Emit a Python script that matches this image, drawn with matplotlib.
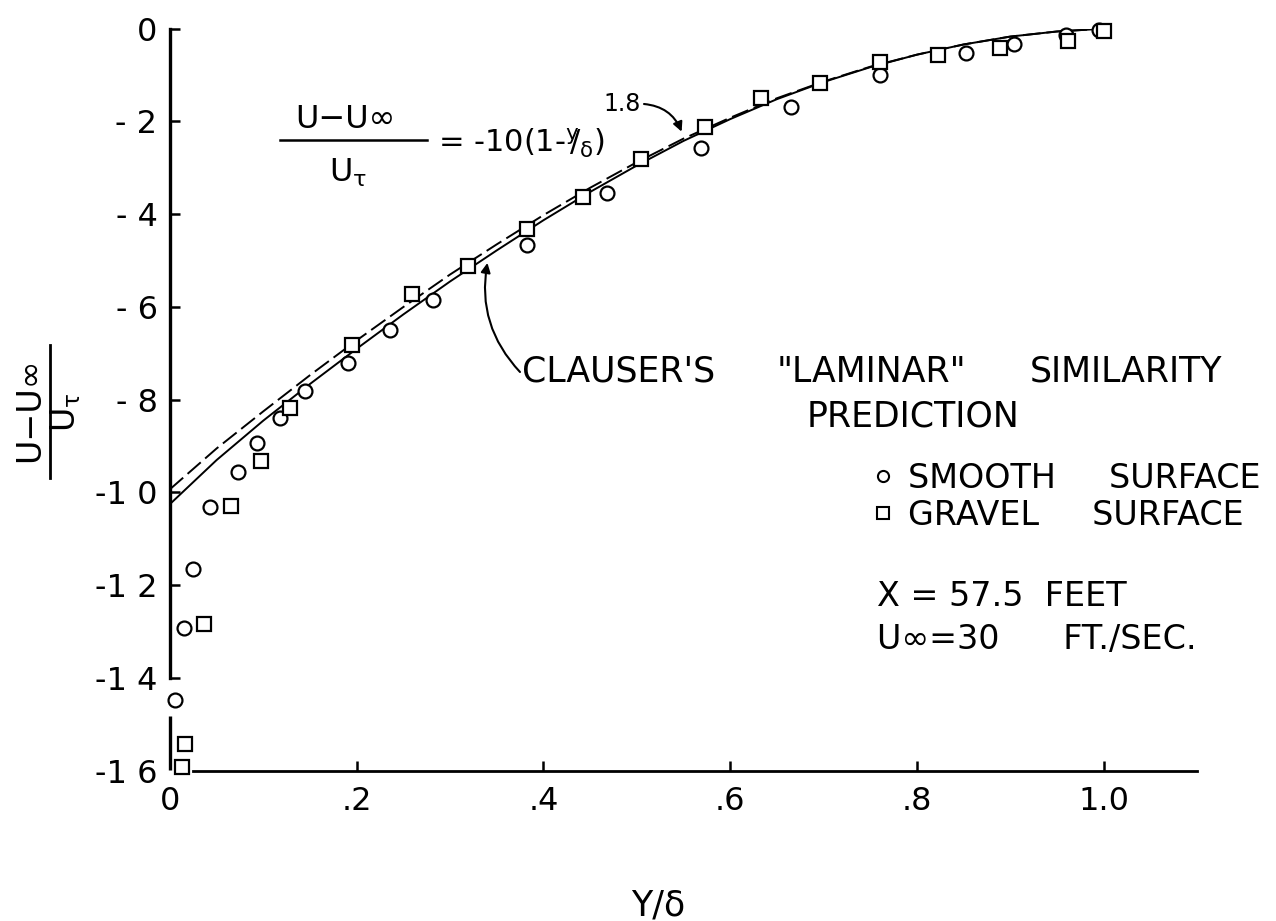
import matplotlib
matplotlib.use('Agg')
import matplotlib.pyplot as plt
from matplotlib.lines import Line2D

# ---- data ----
smooth_x = [0.005, 0.015, 0.025, 0.043, 0.073, 0.093, 0.118, 0.145, 0.191, 0.236,
            0.282, 0.382, 0.468, 0.569, 0.665, 0.761, 0.853, 0.904, 0.960, 0.995]
smooth_y = [-14.48, -12.92, -11.64, -10.32, -9.55, -8.94, -8.39, -7.82, -7.20, -6.49,
            -5.84, -4.67, -3.54, -2.58, -1.68, -1.00, -0.53, -0.32, -0.14, -0.03]

gravel_x = [0.0125, 0.016, 0.036, 0.065, 0.097, 0.1285, 0.1945, 0.259, 0.319, 0.382,
            0.442, 0.505, 0.573, 0.633, 0.696, 0.761, 0.823, 0.889, 0.962, 1.0]
gravel_y = [-15.92, -15.43, -12.84, -10.29, -9.33, -8.18, -6.83, -5.71, -5.11, -4.31,
            -3.63, -2.80, -2.12, -1.50, -1.18, -0.71, -0.57, -0.42, -0.26, -0.04]

curve_x = [0.0, 0.05, 0.1, 0.15, 0.2, 0.25, 0.3, 0.35, 0.4, 0.45, 0.5,
           0.55, 0.6, 0.65, 0.7, 0.75, 0.8, 0.85, 0.9, 0.95, 1.0]
solid_y = [-10.25, -9.30, -8.45, -7.66, -6.90, -6.16, -5.45, -4.78, -4.13, -3.52, -2.95,
           -2.42, -1.95, -1.52, -1.15, -0.83, -0.56, -0.34, -0.17, -0.06, 0.0]
dashed_y = [-9.93, -9.05, -8.25, -7.47, -6.72, -6.00, -5.30, -4.65, -4.02, -3.43, -2.88,
            -2.37, -1.92, -1.50, -1.14, -0.82, -0.56, -0.34, -0.17, -0.06, 0.0]

xtick_vals = [0, 0.2, 0.4, 0.6, 0.8, 1.0]
xtick_labels = ['0', '.2', '.4', '.6', '.8', '1.0']
ytick_vals = [0, -2, -4, -6, -8, -10, -12, -14, -16]
ytick_labels = ['0', '- 2', '- 4', '- 6', '- 8', '-1 0', '-1 2', '-1 4', '-1 6']

plt.rcParams['font.family'] = ['DejaVu Sans']
plt.rcParams['mathtext.fontset'] = 'dejavusans'
plt.rcParams['mathtext.default'] = 'regular'

W, H = 1276, 921
fig = plt.figure(figsize=(W / 100, H / 100), dpi=100)
fig.patch.set_facecolor('white')

x0_px, x1_px = 170, 1197
y0_px, y1_px = 28.7, 770.7
ax = fig.add_axes([x0_px / W, 1 - y1_px / H, (x1_px - x0_px) / W, (y1_px - y0_px) / H])
ax.set_xlim(0, 1.1)
ax.set_ylim(-16, 0)

for s in ('top', 'right'):
    ax.spines[s].set_visible(False)
ax.spines['left'].set_bounds(-14, 0)
ax.spines['left'].set_linewidth(2.4)
ax.spines['bottom'].set_bounds(0.025, 1.1)
ax.spines['bottom'].set_linewidth(2.0)

ax.set_xticks(xtick_vals)
ax.set_xticklabels(xtick_labels)
ax.set_yticks(ytick_vals)
ax.set_yticklabels(ytick_labels)
ax.tick_params(axis='both', direction='in', length=7, width=1.8, labelsize=23)
ax.tick_params(axis='x', pad=11)
ax.tick_params(axis='y', pad=9)
for t in ax.xaxis.get_major_ticks():
    if abs(t.get_loc()) < 1e-9:
        t.tick1line.set_visible(False)
for t in ax.yaxis.get_major_ticks():
    if abs(t.get_loc() + 16) < 1e-9:
        t.tick1line.set_visible(False)

# broken piece of the y axis near the bottom
ax.plot([0, 0], [-14.83, -15.98], color='k', lw=2.4, clip_on=False, solid_capstyle='butt')

# prediction curves
ax.plot(curve_x, solid_y, color='k', lw=1.4, zorder=2)
ax.plot(curve_x, dashed_y, color='k', lw=1.4, dashes=(9, 3), zorder=2)

# data
ax.plot(smooth_x, smooth_y, 'o', ms=10, mfc='white', mec='k', mew=1.6, ls='none',
        zorder=3, clip_on=False)
ax.plot(gravel_x, gravel_y, 's', ms=10, mfc='white', mec='k', mew=1.6, ls='none',
        zorder=3, clip_on=False)


def ftext(px, py, s, **kw):
    return fig.text(px / W, 1 - py / H, s, **kw)


# equation annotation
ftext(345, 119, 'U−U∞', ha='center', va='center', fontsize=23)
fig.add_artist(Line2D([280 / W, 427 / W], [1 - 140 / H, 1 - 140 / H], color='k', lw=1.8,
                      transform=fig.transFigure))
ftext(348, 173, r'U$_\tau$', ha='center', va='center', fontsize=23)
ftext(438, 143, r'= -10(1-$^y\!\!/_\delta$)', ha='left', va='center', fontsize=22)
ftext(622, 104, '1.8', ha='center', va='center', fontsize=17)
ax.annotate('', xy=(0.548, -2.22), xycoords='data',
            xytext=(644 / W, 1 - 104 / H), textcoords='figure fraction',
            arrowprops=dict(arrowstyle='-|>', color='k', lw=1.5,
                            connectionstyle='arc3,rad=-0.3', mutation_scale=14,
                            shrinkA=0, shrinkB=0))

# Clauser text and arrow
ftext(522, 372, "CLAUSER'S", ha='left', va='center', fontsize=25)
ftext(777, 372, '"LAMINAR"', ha='left', va='center', fontsize=25)
ftext(1030, 372, 'SIMILARITY', ha='left', va='center', fontsize=25)
ftext(807, 416, 'PREDICTION', ha='left', va='center', fontsize=25)
ax.annotate('', xy=(0.340, -5.05), xycoords='data',
            xytext=(520 / W, 1 - 372 / H), textcoords='figure fraction',
            arrowprops=dict(arrowstyle='-|>', color='k', lw=1.5,
                            connectionstyle='arc3,rad=-0.25', mutation_scale=14,
                            shrinkA=0, shrinkB=0))

# legend
handles = [Line2D([], [], marker='o', ls='none', ms=8, mfc='white', mec='k', mew=1.5),
           Line2D([], [], marker='s', ls='none', ms=9, mfc='white', mec='k', mew=1.5)]
labels = ['SMOOTH     SURFACE', 'GRAVEL     SURFACE']
fig.legend(handles, labels, loc='upper left', bbox_to_anchor=(873 / W, 1 - 462 / H),
           frameon=False, fontsize=24, handlelength=0.6, handletextpad=0.45,
           labelspacing=0.12, borderpad=0, borderaxespad=0)

ftext(877, 597, 'X = 57.5  FEET', ha='left', va='center', fontsize=24)
ftext(877, 640, 'U∞=30      FT./SEC.', ha='left', va='center', fontsize=24)

# y-axis label as a rotated fraction
ftext(30, 410, 'U−U∞', rotation=90, ha='center', va='center', fontsize=24)
fig.add_artist(Line2D([50 / W, 50 / W], [1 - 345 / H, 1 - 478 / H], color='k', lw=2.0,
                      transform=fig.transFigure))
ftext(66, 412, r'U$_\tau$', rotation=90, ha='center', va='center', fontsize=24)

ftext(658, 905, 'Y/δ', ha='center', va='center', fontsize=25)

fig.savefig('out.png', dpi=100)
